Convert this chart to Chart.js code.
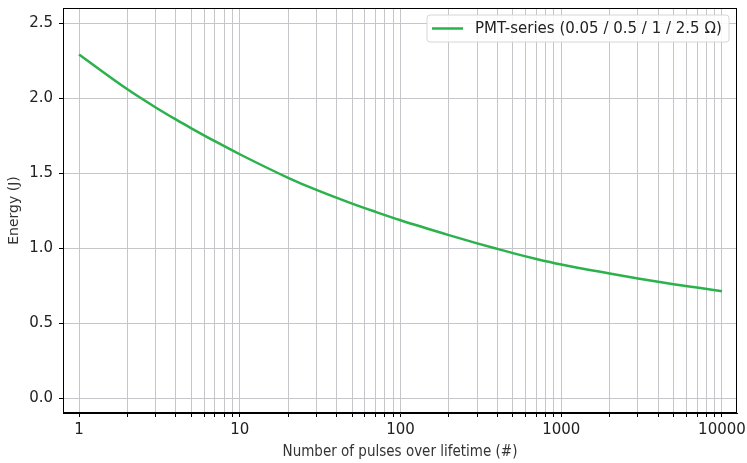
<!DOCTYPE html>
<html>
<head>
<meta charset="utf-8">
<script src="https://cdn.jsdelivr.net/npm/chart.js@4/dist/chart.umd.min.js"></script>
<style>
  html, body { margin: 0; padding: 0; background: #fff; }
  #wrap { width: 747px; height: 463px; }
</style>
</head>
<body>
<div id="wrap"><canvas id="chart" width="747" height="463"></canvas></div>
<script>
/* data */
const pulses = [1, 2, 3, 4, 5, 7, 10, 20, 30, 50, 70, 100, 200, 300, 400, 500, 700, 1000, 2000, 3000, 5000, 7000, 10000];
const energy = [2.29, 2.058, 1.937, 1.857, 1.798, 1.712, 1.625, 1.468, 1.387, 1.296, 1.241, 1.185, 1.086, 1.031, 0.994, 0.966, 0.927, 0.890, 0.830, 0.797, 0.759, 0.736, 0.712];
const yTicks = [0, 0.5, 1.0, 1.5, 2.0, 2.5];
const decades = [1, 10, 100, 1000, 10000];
const seriesLabel = "PMT-series (0.05 / 0.5 / 1 / 2.5 Ω)";

const LINE_COLOR = "#2bb24c";
const GRID_COLOR = "#c6c6ca";
const TICK_FONT = { family: "DejaVu Sans", size: 15 };

// every log tick 1..9 per decade, up to 10000
const xTicks = [];
decades.forEach(d => {
  for (let m = 1; m <= 9; m++) {
    if (d * m <= 10000) xTicks.push(d * m);
  }
});

// keep the plot box where the reference has it
function noOverhang(s) {
  s.paddingLeft = 0;
  s.paddingRight = 0;
  s.paddingTop = 0;
  s.paddingBottom = 0;
}

/* frame + in-plot legend */
const framePlugin = {
  id: "frame",
  afterDraw(chart) {
    const { ctx, chartArea: a } = chart;
    ctx.save();
    ctx.strokeStyle = "#000";
    ctx.lineWidth = 1;
    ctx.strokeRect(a.left + 0.5, a.top + 0.5, a.right - a.left - 1, a.bottom - a.top - 1);

    // legend box
    const bx = 427, by = 15, bw = 302, bh = 27, r = 3;
    ctx.beginPath();
    ctx.moveTo(bx + r, by);
    ctx.arcTo(bx + bw, by, bx + bw, by + bh, r);
    ctx.arcTo(bx + bw, by + bh, bx, by + bh, r);
    ctx.arcTo(bx, by + bh, bx, by, r);
    ctx.arcTo(bx, by, bx + bw, by, r);
    ctx.closePath();
    ctx.fillStyle = "rgba(255,255,255,0.85)";
    ctx.fill();
    ctx.strokeStyle = "#d6d6d6";
    ctx.stroke();

    ctx.strokeStyle = LINE_COLOR;
    ctx.lineWidth = 2.5;
    ctx.beginPath();
    ctx.moveTo(432, 28.5);
    ctx.lineTo(463, 28.5);
    ctx.stroke();

    ctx.fillStyle = "#222";
    ctx.font = "15px 'DejaVu Sans'";
    ctx.textBaseline = "middle";
    ctx.fillText(chart.data.datasets[0].label, 475, 29);
    ctx.restore();
  }
};

new Chart(document.getElementById("chart"), {
  type: "line",
  data: {
    datasets: [{
      label: seriesLabel,
      data: pulses.map((p, i) => ({ x: p, y: energy[i] })),
      borderColor: LINE_COLOR,
      borderWidth: 2.5,
      pointRadius: 0,
      fill: false,
      cubicInterpolationMode: "monotone"
    }]
  },
  options: {
    responsive: false,
    animation: false,
    layout: { padding: { top: 8, right: 10, left: 0, bottom: 0 } },
    plugins: { legend: { display: false }, tooltip: { enabled: false } },
    scales: {
      x: {
        type: "logarithmic",
        min: 0.795,
        max: 12400,
        afterBuildTicks: s => { s.ticks = xTicks.map(v => ({ value: v })); },
        afterFit: s => { s.height = 50; noOverhang(s); },
        ticks: {
          autoSkip: false,
          maxRotation: 0,
          color: "#222",
          font: TICK_FONT,
          padding: 4,
          callback: v => decades.includes(v) ? String(v) : ""
        },
        grid: { color: GRID_COLOR, lineWidth: 1, tickLength: 4, tickColor: "#000" },
        border: { display: true, color: "#000", width: 1 },
        title: {
          display: true,
          text: "Number of pulses over lifetime (#)",
          color: "#333",
          font: { family: "'Liberation Sans Narrow', 'DejaVu Sans Condensed', Roboto", size: 15 },
          padding: { top: 2, bottom: 2 }
        }
      },
      y: {
        min: -0.1,
        max: 2.6,
        afterBuildTicks: s => { s.ticks = yTicks.map(v => ({ value: v })); },
        afterFit: s => { s.width = 63; noOverhang(s); },
        ticks: {
          color: "#222",
          font: TICK_FONT,
          padding: 6,
          callback: v => Number(v).toFixed(1)
        },
        grid: { color: GRID_COLOR, lineWidth: 1, tickLength: 4, tickColor: "#000" },
        border: { display: true, color: "#000", width: 1 },
        title: {
          display: true,
          text: "Energy (J)",
          color: "#333",
          font: { family: "DejaVu Sans", size: 14 },
          padding: { top: 6, bottom: 0 }
        }
      }
    }
  },
  plugins: [framePlugin]
});
</script>
</body>
</html>
